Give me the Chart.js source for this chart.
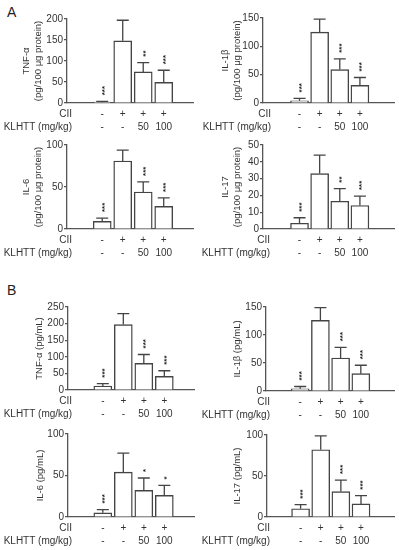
<!DOCTYPE html>
<html>
<head>
<meta charset="utf-8">
<script src="https://cdn.jsdelivr.net/npm/chart.js@4"></script>
<style>
body { margin: 0; background: #fff; width: 399px; height: 550px; position: relative; overflow: hidden; font-family: "Liberation Sans", Arial, sans-serif; }
canvas { position: absolute; }
.panel-letter { position: absolute; font-size: 14px; color: #222; }
</style>
</head>
<body>
<div class="panel-letter" style="left:7px;top:4px">A</div>
<div class="panel-letter" style="left:7px;top:282px">B</div>
<canvas id="c0"></canvas>
<canvas id="c1"></canvas>
<canvas id="c2"></canvas>
<canvas id="c3"></canvas>
<canvas id="c4"></canvas>
<canvas id="c5"></canvas>
<canvas id="c6"></canvas>
<canvas id="c7"></canvas>
<script>
// groups (same for every panel)
const groupCII = ['-', '+', '+', '+'];
const groupKLHTT = ['-', '-', '50', '100'];
const rowTitles = ['CII', 'KLHTT (mg/kg)'];

// A: tissue levels (pg/100 ug protein) - mean and top of error bar
const tnfTissueMean = [2, 148, 74, 49];
const tnfTissueTop = [4, 197, 96, 78];
const tnfTissueSig = ['***', '', '**', '***'];

const il1bTissueMean = [4, 125, 59, 31];
const il1bTissueTop = [8, 148, 78, 45];
const il1bTissueSig = ['***', '', '***', '***'];

const il6TissueMean = [9, 81, 44, 27];
const il6TissueTop = [13, 94, 56, 37];
const il6TissueSig = ['***', '', '***', '***'];

const il17TissueMean = [3.4, 33, 16.5, 14];
const il17TissueTop = [6.7, 44, 24, 19.6];
const il17TissueSig = ['***', '', '**', '***'];

// B: serum levels (pg/mL)
const tnfSerumMean = [12, 197, 80, 41];
const tnfSerumTop = [19, 230, 107, 58];
const tnfSerumSig = ['***', '', '***', '***'];

const il1bSerumMean = [4, 126, 59, 31];
const il1bSerumTop = [8, 149, 78, 46];
const il1bSerumSig = ['***', '', '***', '***'];

const il6SerumMean = [5, 54, 32, 26];
const il6SerumTop = [9, 77, 47, 38];
const il6SerumSig = ['***', '', '*', '*'];

const il17SerumMean = [10, 82, 31, 16];
const il17SerumTop = [15, 99, 45, 26];
const il17SerumSig = ['***', '', '***', '***'];

const panels = [
    { title: ['TNF-\u03b1', '(pg/100 \u03bcg protein)'], max: 200, step: 50, mean: tnfTissueMean, top: tnfTissueTop, sig: tnfTissueSig },
    { title: ['IL-1\u03b2', '(pg/100 \u03bcg protein)'], max: 150, step: 50, mean: il1bTissueMean, top: il1bTissueTop, sig: il1bTissueSig },
    { title: ['IL-6', '(pg/100 \u03bcg protein)'], max: 100, step: 50, mean: il6TissueMean, top: il6TissueTop, sig: il6TissueSig },
    { title: ['IL-17', '(pg/100 \u03bcg protein)'], max: 50, step: 10, mean: il17TissueMean, top: il17TissueTop, sig: il17TissueSig },
    { title: 'TNF-\u03b1 (pg/mL)', max: 250, step: 50, mean: tnfSerumMean, top: tnfSerumTop, sig: tnfSerumSig },
    { title: 'IL-1\u03b2 (pg/mL)', max: 150, step: 50, mean: il1bSerumMean, top: il1bSerumTop, sig: il1bSerumSig },
    { title: 'IL-6 (pg/mL)', max: 100, step: 50, mean: il6SerumMean, top: il6SerumTop, sig: il6SerumSig },
    { title: 'IL-17 (pg/mL)', max: 100, step: 50, mean: il17SerumMean, top: il17SerumTop, sig: il17SerumSig }
];

// placement of each panel on the page
const layout = [
    { col: 0, axisX: 67, top: 19, bottom: 103, xEnd: 193, titlePad: 20, rowRight: 72, xMin: -0.95, xMax: 3.66 },
    { col: 200, axisX: 263, top: 18, bottom: 103, xEnd: 394, titlePad: 19, rowRight: 271, xMin: -1.0, xMax: 3.88 },
    { col: 0, axisX: 67, top: 145, bottom: 229, xEnd: 193, titlePad: 20, rowRight: 72, xMin: -0.95, xMax: 3.66 },
    { col: 200, axisX: 263, top: 145, bottom: 229, xEnd: 394, titlePad: 19, rowRight: 270, xMin: -1.0, xMax: 3.88 },
    { col: 0, axisX: 68, top: 307, bottom: 390, xEnd: 194, titlePad: 33, rowRight: 72, xMin: -0.93, xMax: 3.68 },
    { col: 200, axisX: 266, top: 307, bottom: 391, xEnd: 394, titlePad: 31, rowRight: 270, xMin: -0.9, xMax: 3.85 },
    { col: 0, axisX: 68, top: 434, bottom: 517, xEnd: 194, titlePad: 34, rowRight: 72, xMin: -0.93, xMax: 3.68 },
    { col: 200, axisX: 267, top: 435, bottom: 517, xEnd: 394, titlePad: 31, rowRight: 270, xMin: -0.88, xMax: 3.85 }
];

const FONT = '"Liberation Sans", Arial, sans-serif';
const AXIS_COLOR = '#555';
const TEXT_COLOR = '#333';
const X_LABEL_PAD = 5;
const X_LINE_H = 12.5;

const errorBarPlugin = {
    id: 'errorBars',
    afterDatasetsDraw(chart) {
        const p = chart.options.plugins.errorBars;
        const meta = chart.getDatasetMeta(0);
        const yScale = chart.scales.y;
        const ctx = chart.ctx;
        ctx.save();
        ctx.strokeStyle = '#444';
        ctx.lineWidth = 1.3;
        meta.data.forEach((bar, i) => {
            const yTop = yScale.getPixelForValue(p.top[i]);
            ctx.beginPath();
            ctx.moveTo(bar.x, bar.y);
            ctx.lineTo(bar.x, yTop);
            ctx.moveTo(bar.x - 6, yTop);
            ctx.lineTo(bar.x + 6, yTop);
            ctx.stroke();
            if (p.sig[i]) {
                ctx.save();
                ctx.translate(bar.x, yTop - 6);
                ctx.rotate(-Math.PI / 2);
                ctx.fillStyle = '#222';
                ctx.font = 'bold 8px ' + FONT;
                ctx.textAlign = 'left';
                ctx.textBaseline = 'alphabetic';
                ctx.fillText(p.sig[i], 0, 4.3);
                ctx.restore();
            }
        });
        // row titles next to the +/- labels
        const area = chart.chartArea;
        ctx.fillStyle = TEXT_COLOR;
        ctx.font = '10px ' + FONT;
        ctx.textAlign = 'right';
        ctx.textBaseline = 'middle';
        rowTitles.forEach((t, k) => {
            ctx.fillText(t, p.rowRight - p.col, area.bottom + X_LABEL_PAD + X_LINE_H * (k + 0.5));
        });
        ctx.restore();
    }
};

function drawPanel(index) {
    const panel = panels[index];
    const L = layout[index];
    const canvas = document.getElementById('c' + index);
    canvas.style.left = L.col + 'px';
    canvas.style.top = (L.top - 20) + 'px';
    canvas.width = L.xEnd - L.col + 4;
    canvas.height = L.bottom - L.top + 20 + 38;

    new Chart(canvas.getContext('2d'), {
        type: 'bar',
        data: {
            datasets: [{
                data: panel.mean.map((v, i) => ({ x: i, y: v })),
                backgroundColor: '#fff',
                borderColor: '#444',
                borderWidth: 1.4,
                barThickness: 18
            }]
        },
        options: {
            responsive: false,
            animation: false,
            devicePixelRatio: 1,
            layout: { padding: { top: 20, right: 4, bottom: 0, left: 0 } },
            plugins: {
                legend: { display: false },
                tooltip: { enabled: false },
                errorBars: { top: panel.top, sig: panel.sig, rowRight: L.rowRight, col: L.col }
            },
            scales: {
                x: {
                    type: 'linear',
                    min: L.xMin,
                    max: L.xMax,
                    afterBuildTicks: s => { s.ticks = [0, 1, 2, 3].map(v => ({ value: v })); },
                    afterFit: s => { s.height = 38; },
                    grid: { display: false, drawTicks: false },
                    border: { display: true, color: AXIS_COLOR, width: 1.3 },
                    ticks: {
                        autoSkip: false,
                        maxRotation: 0,
                        padding: X_LABEL_PAD,
                        color: TEXT_COLOR,
                        font: { family: FONT, size: 10, lineHeight: X_LINE_H / 10 },
                        callback: v => [groupCII[v], groupKLHTT[v]]
                    }
                },
                y: {
                    min: 0,
                    max: panel.max,
                    afterFit: s => { s.width = L.axisX - L.col; },
                    grid: { display: true, drawOnChartArea: false, drawTicks: true, tickLength: 3, color: AXIS_COLOR, lineWidth: 1.2 },
                    border: { display: true, color: AXIS_COLOR, width: 1.3 },
                    ticks: {
                        stepSize: panel.step,
                        padding: 1,
                        color: TEXT_COLOR,
                        font: { family: FONT, size: 10 }
                    },
                    title: {
                        display: true,
                        text: panel.title,
                        color: TEXT_COLOR,
                        padding: { top: L.titlePad, bottom: 0 },
                        font: { family: FONT, size: 9.5, lineHeight: 1.3 }
                    }
                }
            }
        },
        plugins: [errorBarPlugin]
    });
}

panels.forEach((p, i) => drawPanel(i));
</script>
</body>
</html>
